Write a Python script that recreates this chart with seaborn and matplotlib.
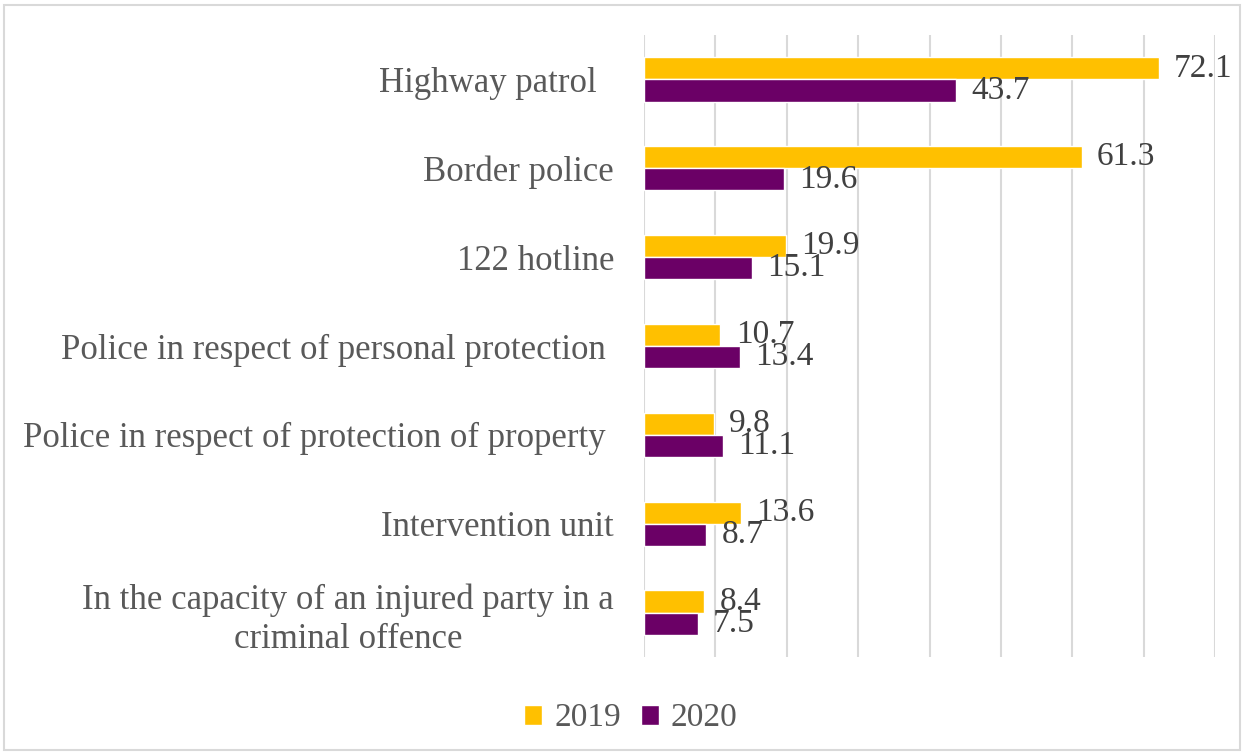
import matplotlib
matplotlib.use("Agg")
import matplotlib.pyplot as plt
import seaborn as sns
import pandas as pd
from matplotlib.patches import Rectangle

categories = [
    "Highway patrol  ",
    "Border police",
    "122 hotline",
    "Police in respect of personal protection ",
    "Police in respect of protection of property ",
    "Intervention unit",
    "In the capacity of an injured party in a\ncriminal offence",
]
values_2019 = [72.1, 61.3, 19.9, 10.7, 9.8, 13.6, 8.4]
values_2020 = [43.7, 19.6, 15.1, 13.4, 11.1, 8.7, 7.5]
years = ["2019", "2020"]
colors = ["#FFC000", "#6B0066"]

df = pd.DataFrame({
    "category": categories * 2,
    "value": values_2019 + values_2020,
    "year": [years[0]] * len(categories) + [years[1]] * len(categories),
})

sns.set_theme(style="white")
plt.rcParams["font.family"] = ["Liberation Serif", "DejaVu Serif"]

FS = 24

fig = plt.figure(figsize=(12.44, 7.52), dpi=100)
ax = fig.add_axes([0.5177, 0.1263, 0.4590, 0.8272])

sns.barplot(data=df, y="category", x="value", hue="year", orient="h",
            palette=colors, width=0.5, ax=ax, legend=True, saturation=1)

ax.set_xlim(0, 80)
ax.set_xticks(range(0, 81, 10))
ax.set_xticklabels([])
ax.tick_params(axis="x", length=0)
ax.tick_params(axis="y", length=0, pad=21.6)
ax.grid(axis="x", color="#D9D9D9", linewidth=1.5)
ax.set_axisbelow(True)
for s in ax.spines.values():
    s.set_visible(False)
ax.set_xlabel("")
ax.set_ylabel("")

for lbl in ax.get_yticklabels():
    lbl.set_fontsize(25)
    lbl.set_color("#595959")
    lbl.set_multialignment("center")
    lbl.set_linespacing(1.25)

for cont in ax.containers:
    ax.bar_label(cont, fmt="%.1f", padding=11, fontsize=FS, color="#404040")

handles, labels = ax.get_legend_handles_labels()
ax.legend_.remove()
fig.legend(handles, labels, loc="center", bbox_to_anchor=(0.507, 0.045), ncol=2,
           frameon=False, fontsize=FS, labelcolor="#595959",
           handlelength=0.55, handleheight=0.55, handletextpad=0.35,
           columnspacing=0.6)

fig.patches.append(Rectangle((0.003, 0.003), 0.994, 0.99, transform=fig.transFigure,
                             fill=False, edgecolor="#D9D9D9", linewidth=1.5))

fig.savefig("out.png", dpi=100, facecolor="white")
